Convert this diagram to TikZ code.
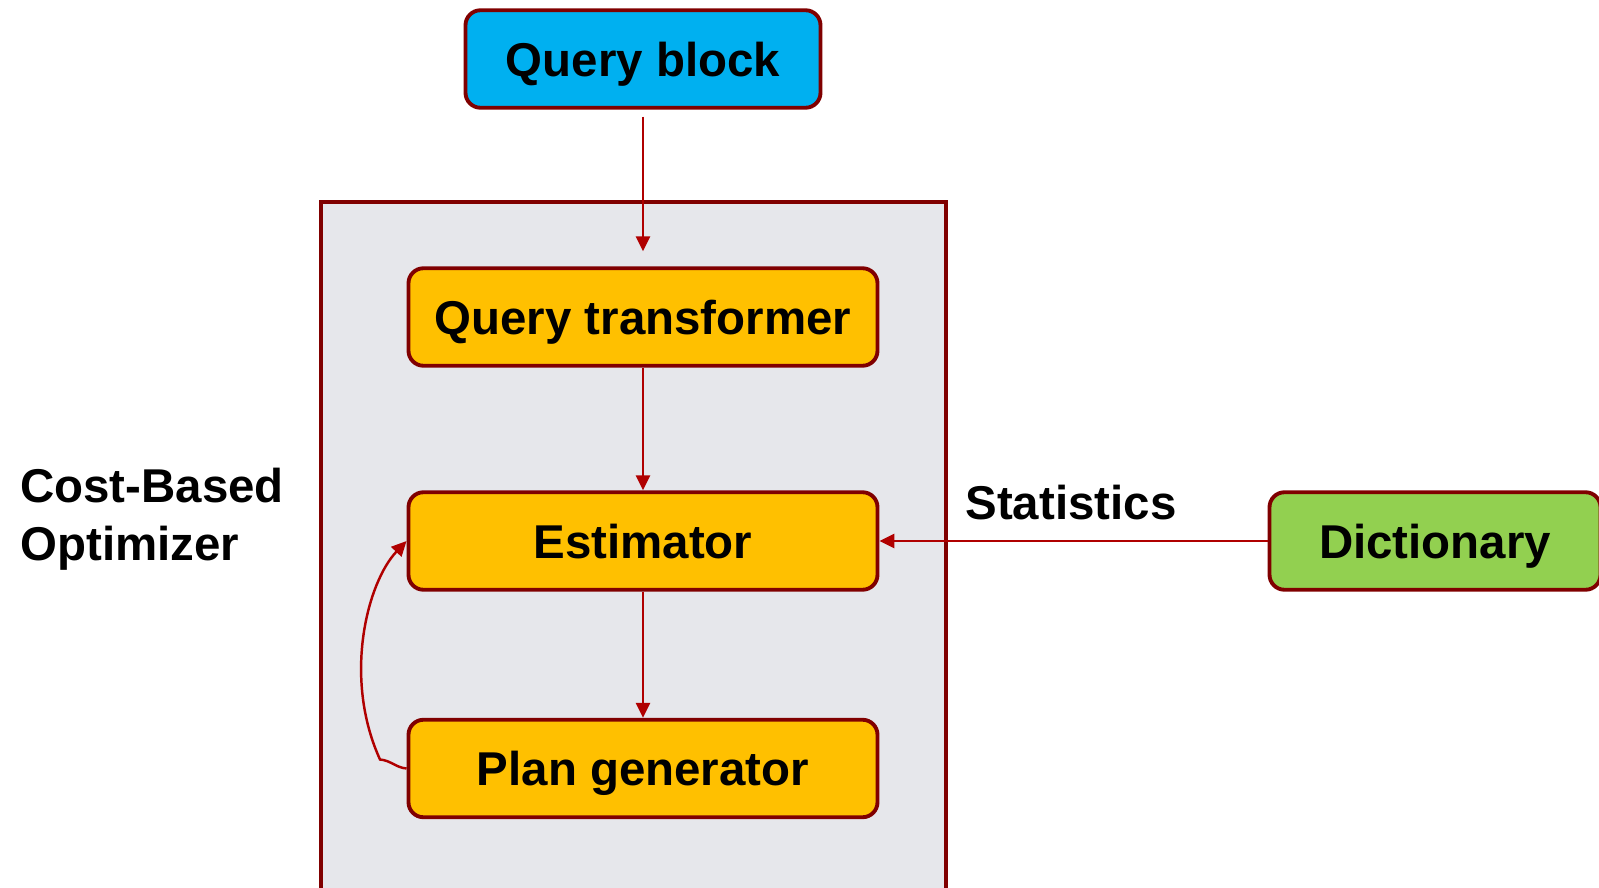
\documentclass[tikz,border=0pt]{standalone}
\usepackage{fontspec}
\setmainfont{Liberation Sans}
\usetikzlibrary{arrows.meta}
\definecolor{borderred}{RGB}{128,0,0}
\definecolor{linkred}{RGB}{176,0,0}
\definecolor{qblue}{RGB}{0,176,240}
\definecolor{qorange}{RGB}{255,192,0}
\definecolor{qgreen}{RGB}{146,208,80}
\definecolor{cbogray}{RGB}{230,231,235}

\begin{document}
\begin{tikzpicture}[
    box/.style={draw=borderred, line width=2.2pt, rounded corners=0.3cm,
      minimum height=1.95cm, text height=19.4pt, text depth=0pt, text=black,
      font=\fontsize{27}{33}\selectfont\bfseries},
    link/.style={draw=linkred, line width=1.4pt, -{Triangle[length=0.3cm,width=0.28cm]}},
    lbl/.style={inner sep=0pt, font=\fontsize{27}{33}\selectfont\bfseries}]
      \useasboundingbox (0,0) rectangle (31.98,17.74);
      \clip (0,0) rectangle (31.98,17.74);

      % 1. 外框 (Cost-Based Optimizer)
      \draw[borderred, line width=2.2pt, fill=cbogray] (6.42,-1) rectangle (18.92,13.7);
      \node[lbl, anchor=west, align=left] (cbo) at (0.4,7.36) {Cost-Based\\Optimizer};

      % 2. 各個方塊
      \node[box, fill=qblue, minimum width=7.1cm] (qb) at (12.86,16.56) {Query block};
      \node[box, fill=qorange, minimum width=9.38cm] (qt) at (12.86,11.4) {Query transformer};
      \node[box, fill=qorange, minimum width=9.38cm] (est) at (12.86,6.92) {Estimator};
      \node[box, fill=qorange, minimum width=9.38cm] (pg) at (12.86,2.37) {Plan generator};
      \node[box, fill=qgreen, minimum width=6.62cm] (dict) at (28.7,6.92) {Dictionary};
      \node[lbl] (stats) at (21.42,7.68) {Statistics};

      % 3. 箭頭
      \draw[link, shorten <=0.14cm, shorten >=0.3cm] (qb) -- (qt);
      \draw[link] (qt) -- (est);
      \draw[link] (est) -- (pg);
      \draw[link] (dict) -- (est);

      % 4. 回饋曲線 PG -> Estimator
      \coordinate (bend) at (7.6,2.55);
      \draw[link] (pg.west) to[out=175,in=-5] (bend) .. controls (6.85,4.2) and (7.35,6.1) .. (est.west);
\end{tikzpicture}
\end{document}
